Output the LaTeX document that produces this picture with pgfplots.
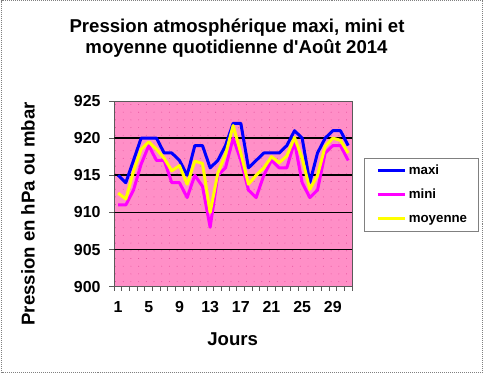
\documentclass[border=0pt]{standalone}
\usepackage{fontspec}
\setmainfont{Liberation Sans}
\usepackage{pgfplots}
\usepackage{pgfplotstable}
\pgfplotsset{compat=1.18}
\usetikzlibrary{patterns.meta}
\definecolor{pinkbg}{RGB}{255,143,199}
\definecolor{pinkdot}{RGB}{225,70,150}
\definecolor{axgray}{RGB}{90,90,90}
\definecolor{lblue}{RGB}{0,0,255}
\definecolor{lmag}{RGB}{255,0,255}
\definecolor{lyel}{RGB}{255,255,0}

\pgfplotstableread{
day maxi mini moy
1 915 911 912.6
2 914 911 911.8
3 917 913 915.5
4 920 916.5 918.5
5 920 919 919.5
6 920 917 918.5
7 918 917 917.3
8 918 914 915.6
9 917 914 916.3
10 915 912 913.8
11 919 915 916.9
12 919 913.5 916.6
13 916 908 910
14 917 915 915.3
15 919 916 917.8
16 922 920 921.7
17 922 917 918
18 916 913 913.8
19 917 912 915
20 918 915 916
21 918 917 917.5
22 918 916 916.7
23 919 916 917.6
24 921 919.5 920.1
25 920 914 917.3
26 914 912 913.1
27 918 913 915
28 920 918 918.9
29 921 919 920
30 921 919 919.7
31 919 917 918
}\data

\begin{document}
\begin{tikzpicture}[x=1bp,y=1bp]
\fill[white] (0,0) rectangle (484,374);
\draw[gray, densely dotted, line width=1bp] (1.5,1.3) rectangle (482.3,373);
\node[font=\fontsize{18.67}{21}\selectfont\bfseries, anchor=base] at (237,341.7) {Pression atmosphérique maxi, mini et};
\node[font=\fontsize{18.67}{21}\selectfont\bfseries, anchor=base] at (236.5,320.7) {moyenne quotidienne d\textquotesingle Août 2014};
\node[font=\fontsize{18.67}{21}\selectfont\bfseries, anchor=base] at (232.7,29) {Jours};
\node[font=\fontsize{18.67}{21}\selectfont\bfseries, anchor=base, rotate=90] at (34.5,160) {Pression en hPa ou mbar};
\begin{axis}[
  at={(114.3bp,87.3bp)}, anchor=south west,
  width=237.7bp, height=185.7bp, scale only axis,
  xmin=0.5, xmax=31.5, ymin=900, ymax=925,
  xtick={1,5,...,29},
  minor xtick={0.5,1.5,...,31.5},
  major x tick style={draw=none},
  ytick={900,905,...,925},
  tick align=outside,
  major tick length=5bp, minor tick length=4bp,
  tick style={axgray, line width=1bp},
  axis line style={axgray, line width=1bp},
  xtick pos=bottom, ytick pos=left,
  axis background/.style={fill=pinkbg, postaction={pattern={Dots[distance=7.7bp,radius=0.45bp]}, pattern color=pinkdot}},
  /pgf/number format/assume math mode=true,
  tick label style={font=\fontsize{16}{19}\selectfont\bfseries},
  yticklabel style={inner sep=0pt, xshift=-8.6bp},
  xticklabel style={inner sep=0pt, yshift=-9.3bp},
  legend cell align=left,
  legend image code/.code={\draw[#1, line width=3bp] (0bp,0bp) -- (27bp,0bp);},
  legend style={at={(axis description cs:1.0518,0.6947)}, anchor=north west,
    draw=gray, line width=0.8bp, fill=white,
    font=\fontsize{13.33}{16}\selectfont\bfseries,
    inner xsep=11.7bp, inner ysep=6bp, row sep=11bp, column sep=2.4bp,
    nodes={inner sep=0pt, text height=10bp, text depth=3bp}},
]
\pgfplotsinvokeforeach{905,910,915,920}{\draw[black, line width=1.8bp] (axis cs:0.5,#1) -- (axis cs:31.5,#1);}
\addplot[color=lblue, line width=3bp, line join=round] table[x=day, y=maxi] {\data};
\addlegendentry{maxi}
\addplot[color=lmag, line width=3bp, line join=round] table[x=day, y=mini] {\data};
\addlegendentry{mini}
\addplot[color=lyel, line width=3bp, line join=round] table[x=day, y=moy] {\data};
\addlegendentry{moyenne}
\end{axis}
\end{tikzpicture}
\end{document}
